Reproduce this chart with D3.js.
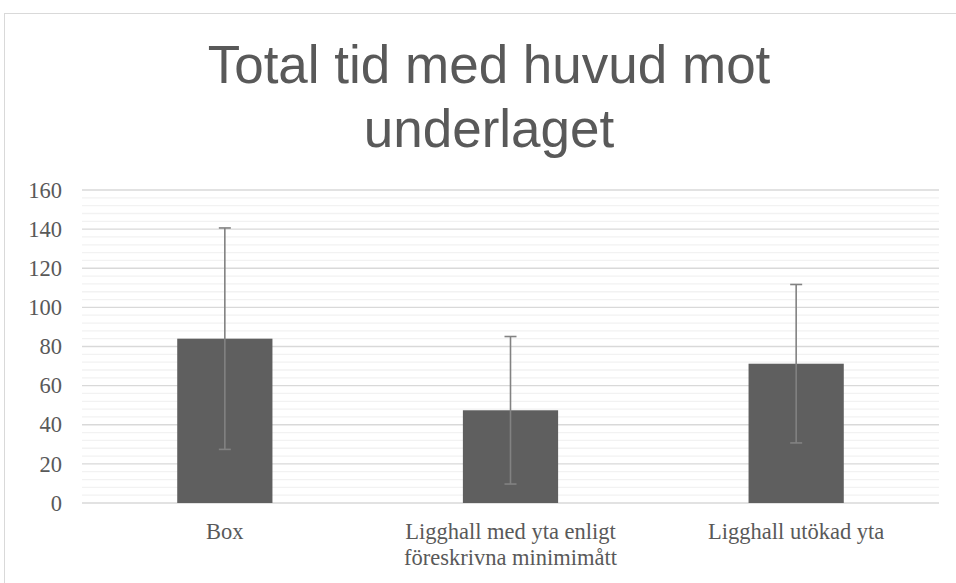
<!DOCTYPE html>
<html>
<head>
<meta charset="utf-8">
<script src="https://cdn.jsdelivr.net/npm/d3@7.9.0/dist/d3.min.js"></script>
<style>
  body { margin: 0; background: #fff; }
  svg { display: block; }
</style>
</head>
<body>
<svg id="chart" width="956" height="583"></svg>
<script>
// data
const categories = ["Box", "Ligghall med yta enligt\nföreskrivna minimimått", "Ligghall utökad yta"];
const means = [84, 47.4, 71.2];
const errors = [56.6, 37.7, 40.5];
const yTicks = [0, 20, 40, 60, 80, 100, 120, 140, 160];
const titleLines = ["Total tid med huvud mot", "underlaget"];

const svg = d3.select("#chart");
const serif = "'Liberation Serif', 'Times New Roman', serif";

// chart frame (cut off at right and bottom like the screenshot)
svg.append("rect")
  .attr("x", 4.5).attr("y", 13.5)
  .attr("width", 1000).attr("height", 700)
  .attr("fill", "#fff")
  .attr("stroke", "#d9d9d9");

const plot = { left: 82, right: 939, top: 190, bottom: 503 };

const x = d3.scaleBand()
  .domain(categories)
  .range([plot.left, plot.right])
  .padding(0);

const y = d3.scaleLinear()
  .domain([0, 160])
  .range([plot.bottom, plot.top]);

const barW = x.bandwidth() / 3;

// minor gridlines
svg.append("g")
  .selectAll("line")
  .data(d3.range(0, 161, 4).filter(v => v % 20 !== 0))
  .join("line")
  .attr("x1", plot.left).attr("x2", plot.right)
  .attr("y1", d => y(d)).attr("y2", d => y(d))
  .attr("stroke", "#f2f2f2")
  .attr("stroke-width", 1.3);

// major gridlines
svg.append("g")
  .selectAll("line")
  .data(yTicks)
  .join("line")
  .attr("x1", plot.left).attr("x2", plot.right)
  .attr("y1", d => y(d)).attr("y2", d => y(d))
  .attr("stroke", "#d9d9d9")
  .attr("stroke-width", 1.3);

// y axis labels
const yAxis = d3.axisLeft(y).tickValues(yTicks).tickSize(0).tickPadding(0);
const ya = svg.append("g")
  .attr("transform", `translate(${plot.left - 20},0)`)
  .call(yAxis);
ya.select(".domain").remove();
ya.selectAll("text")
  .attr("font-family", serif)
  .attr("font-size", 22.5)
  .attr("fill", "#595959");

// bars
svg.append("g")
  .selectAll("rect")
  .data(categories)
  .join("rect")
  .attr("x", (d) => x(d) + x.bandwidth() / 2 - barW / 2)
  .attr("width", barW)
  .attr("y", (d, i) => y(means[i]))
  .attr("height", (d, i) => y(0) - y(means[i]))
  .attr("fill", "#5f5f5f");

// error bars
const eb = svg.append("g")
  .attr("stroke", "#828282")
  .attr("stroke-width", 1.6);
categories.forEach((c, i) => {
  const cx = x(c) + x.bandwidth() / 2;
  const hi = y(means[i] + errors[i]);
  const lo = y(means[i] - errors[i]);
  eb.append("line").attr("x1", cx).attr("x2", cx).attr("y1", hi).attr("y2", lo);
  eb.append("line").attr("x1", cx - 6).attr("x2", cx + 6).attr("y1", hi).attr("y2", hi);
  eb.append("line").attr("x1", cx - 6).attr("x2", cx + 6).attr("y1", lo).attr("y2", lo);
});

// category labels
const xl = svg.append("g")
  .attr("font-family", serif)
  .attr("font-size", 22.5)
  .attr("fill", "#595959")
  .attr("text-anchor", "middle");
categories.forEach((c) => {
  const t = xl.append("text")
    .attr("x", x(c) + x.bandwidth() / 2)
    .attr("y", 539);
  c.split("\n").forEach((line, j) => {
    t.append("tspan")
      .attr("x", x(c) + x.bandwidth() / 2)
      .attr("dy", j === 0 ? 0 : 25.5)
      .text(line);
  });
});

// title
svg.append("g")
  .selectAll("text")
  .data(titleLines)
  .join("text")
  .attr("x", 489)
  .attr("y", (d, i) => 83 + i * 64)
  .attr("text-anchor", "middle")
  .attr("font-family", "'Liberation Sans', Arial, sans-serif")
  .attr("font-size", 53)
  .attr("fill", "#595959")
  .text(d => d);
</script>
</body>
</html>
